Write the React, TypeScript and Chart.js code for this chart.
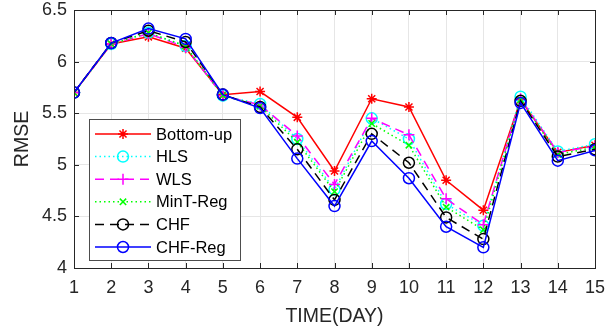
import React, { useEffect, useRef } from "react";
import { Chart, registerables } from "chart.js";
Chart.register(...registerables);

const days = [1, 2, 3, 4, 5, 6, 7, 8, 9, 10, 11, 12, 13, 14, 15];
const yTickValues = [4, 4.5, 5, 5.5, 6, 6.5];
const seriesNames = ["Bottom-up", "HLS", "WLS", "MinT-Reg", "CHF", "CHF-Reg"];
const bottomUp = [5.70, 6.17, 6.24, 6.13, 5.68, 5.71, 5.46, 4.94, 5.64, 5.56, 4.85, 4.56, 5.63, 5.12, 5.19];
const hls = [5.70, 6.17, 6.28, 6.15, 5.67, 5.59, 5.25, 4.76, 5.45, 5.25, 4.62, 4.41, 5.66, 5.13, 5.20];
const wls = [5.70, 6.17, 6.27, 6.14, 5.67, 5.58, 5.28, 4.81, 5.45, 5.29, 4.67, 4.42, 5.64, 5.12, 5.18];
const mintReg = [5.70, 6.17, 6.28, 6.15, 5.67, 5.57, 5.22, 4.74, 5.40, 5.19, 4.59, 4.37, 5.63, 5.10, 5.17];
const chf = [5.70, 6.18, 6.30, 6.19, 5.68, 5.56, 5.15, 4.66, 5.30, 5.02, 4.49, 4.28, 5.62, 5.08, 5.15];
const chfReg = [5.70, 6.18, 6.32, 6.22, 5.68, 5.55, 5.06, 4.60, 5.23, 4.87, 4.40, 4.20, 5.60, 5.04, 5.14];

const FONT = "'Liberation Sans', Arial, Helvetica, sans-serif";
const AXIS_COLOR = "#262626";

type Style = { color: string; dash: number[]; marker: string; radius: number };
const styles: Style[] = [
  { color: "#ff0000", dash: [], marker: "star", radius: 5 },
  { color: "#00ffff", dash: [1.5, 3], marker: "circle", radius: 5.5 },
  { color: "#ff00ff", dash: [9, 6], marker: "cross", radius: 5.5 },
  { color: "#00ff00", dash: [1.5, 3], marker: "crossRot", radius: 4.5 },
  { color: "#000000", dash: [9, 6], marker: "circle", radius: 5.5 },
  { color: "#0000ff", dash: [], marker: "circle", radius: 5.5 },
];
const seriesData = [bottomUp, hls, wls, mintReg, chf, chfReg];

function drawMarker(ctx: CanvasRenderingContext2D, style: string, x: number, y: number, r: number) {
  ctx.beginPath();
  if (style === "circle") {
    ctx.arc(x, y, r, 0, Math.PI * 2);
  } else {
    const lines: number[] = [];
    if (style === "cross" || style === "star") lines.push(0, Math.PI / 2);
    if (style === "crossRot" || style === "star") lines.push(Math.PI / 4, (3 * Math.PI) / 4);
    for (const a of lines) {
      ctx.moveTo(x - Math.cos(a) * r, y - Math.sin(a) * r);
      ctx.lineTo(x + Math.cos(a) * r, y + Math.sin(a) * r);
    }
  }
  ctx.stroke();
}

const framePlugin = {
  id: "frame",
  afterDatasetsDraw(chart: any) {
    const ctx: CanvasRenderingContext2D = chart.ctx;
    const { left, right, top, bottom } = chart.chartArea;
    const xs = chart.scales.x;
    const ys = chart.scales.y;
    ctx.save();
    ctx.strokeStyle = AXIS_COLOR;
    ctx.lineWidth = 1;
    ctx.setLineDash([]);
    ctx.strokeRect(Math.round(left) + 0.5, Math.round(top) + 0.5, Math.round(right - left), Math.round(bottom - top));
    ctx.beginPath();
    const tl = 5;
    for (const d of days) {
      const px = Math.round(xs.getPixelForValue(d)) + 0.5;
      ctx.moveTo(px, bottom);
      ctx.lineTo(px, bottom - tl);
      ctx.moveTo(px, top);
      ctx.lineTo(px, top + tl);
    }
    for (const v of yTickValues) {
      const py = Math.round(ys.getPixelForValue(v)) + 0.5;
      ctx.moveTo(left, py);
      ctx.lineTo(left + tl, py);
      ctx.moveTo(right, py);
      ctx.lineTo(right - tl, py);
    }
    ctx.stroke();

    // legend
    const lx = 89.5, ly = 119.5, lw = 151, lh = 141;
    ctx.fillStyle = "#ffffff";
    ctx.fillRect(lx, ly, lw, lh);
    ctx.strokeStyle = "#4d4d4d";
    ctx.strokeRect(lx, ly, lw, lh);
    ctx.font = `16.5px ${FONT}`;
    ctx.textBaseline = "middle";
    ctx.textAlign = "left";
    seriesNames.forEach((name, i) => {
      const st = styles[i];
      const y = 134 + i * 22.6;
      ctx.strokeStyle = st.color;
      ctx.lineWidth = 1.5;
      ctx.setLineDash(st.dash);
      ctx.beginPath();
      ctx.moveTo(95, y);
      ctx.lineTo(151, y);
      ctx.stroke();
      ctx.setLineDash([]);
      drawMarker(ctx, st.marker, 123, y, st.radius);
      ctx.fillStyle = "#000000";
      ctx.fillText(name, 156, y + 1);
    });
    ctx.restore();
  },
};

export default function App() {
  const ref = useRef<HTMLCanvasElement>(null);
  useEffect(() => {
    if (!ref.current) return;
    const datasets = seriesNames.map((name, i) => ({
      label: name,
      data: days.map((d, j) => ({ x: d, y: seriesData[i][j] })),
      borderColor: styles[i].color,
      backgroundColor: "transparent",
      borderWidth: 1.5,
      borderDash: styles[i].dash,
      pointStyle: styles[i].marker,
      pointRadius: styles[i].radius,
      pointBorderWidth: 1.5,
      pointBorderColor: styles[i].color,
      pointBackgroundColor: "transparent",
      tension: 0,
      fill: false,
      order: seriesNames.length - i,
    }));
    const chart = new Chart(ref.current, {
      type: "line",
      data: { datasets },
      options: {
        animation: false,
        responsive: true,
        maintainAspectRatio: false,
        layout: { padding: { left: 0, right: 13, top: 10, bottom: 0 } },
        plugins: { legend: { display: false }, tooltip: { enabled: false } },
        scales: {
          x: {
            type: "linear",
            min: 1,
            max: 15,
            afterFit: (s: any) => { s.height = 63; s.paddingLeft = 0; s.paddingRight = 0; },
            afterBuildTicks: (s: any) => { s.ticks = days.map((v) => ({ value: v })); },
            ticks: { color: AXIS_COLOR, font: { family: FONT, size: 18 }, padding: 9, maxRotation: 0, autoSkip: false },
            grid: { color: "#e6e6e6", drawTicks: false },
            border: { display: false },
            title: { display: true, text: "TIME(DAY)", color: AXIS_COLOR, font: { family: FONT, size: 19.5 }, padding: { top: 0, bottom: 3 } },
          },
          y: {
            type: "linear",
            min: 4,
            max: 6.5,
            afterFit: (s: any) => { s.width = 74; s.paddingTop = 0; s.paddingBottom = 0; },
            afterBuildTicks: (s: any) => { s.ticks = yTickValues.map((v) => ({ value: v })); },
            ticks: { color: AXIS_COLOR, font: { family: FONT, size: 18 }, padding: 7, callback: (v: any) => String(v) },
            grid: { color: "#e6e6e6", drawTicks: false },
            border: { display: false },
            title: { display: true, text: "RMSE", color: AXIS_COLOR, font: { family: FONT, size: 19.5 }, padding: { top: 11, bottom: 0 } },
          },
        },
      },
      plugins: [framePlugin],
    } as any);
    return () => chart.destroy();
  }, []);
  return (
    <div style={{ position: "fixed", left: 0, top: 0, width: 608, height: 331, background: "#fff" }}>
      <canvas ref={ref} />
    </div>
  );
}
